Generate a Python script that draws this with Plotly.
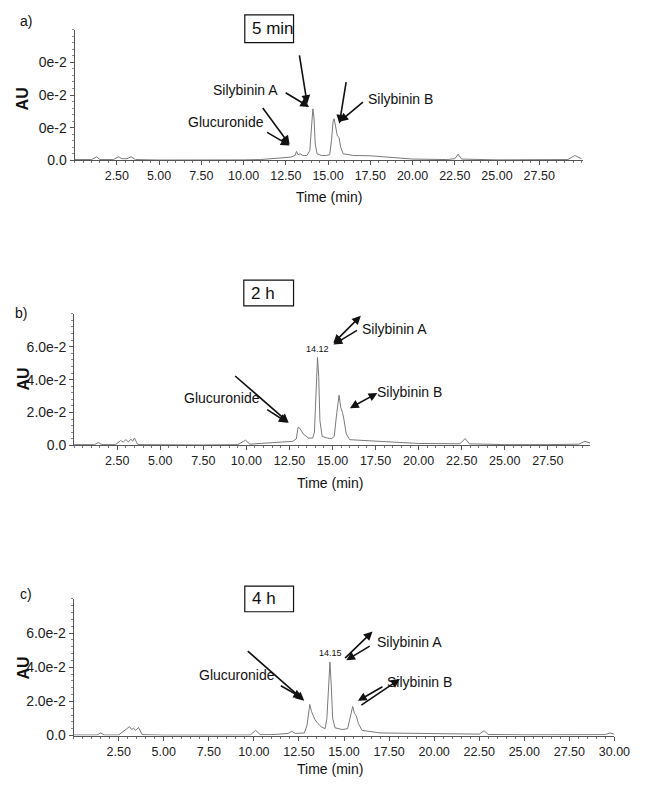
import plotly.graph_objects as go

W, H = 646, 793

# ---------------- data (AU in units of 1e-2) ----------------
t_a = [0.0, 1.0, 1.3, 1.5, 2.3, 2.6, 2.8, 3.1, 3.35, 3.6, 5.0, 7.5, 9.0, 10.0, 11.0, 12.0, 12.8,
       13.05, 13.13, 13.22, 13.35, 13.5, 13.75, 13.92, 14.02, 14.1, 14.17, 14.24, 14.35, 14.6,
       14.9, 15.1, 15.2, 15.3, 15.36, 15.45, 15.55, 15.65, 15.75, 15.9, 16.5, 17.5, 19.0, 20.0,
       22.0, 22.5, 22.7, 22.9, 25.0, 27.5, 29.2, 29.6, 29.9, 30.0]
au_a = [0.05, 0.05, 0.22, 0.05, 0.05, 0.22, 0.1, 0.1, 0.22, 0.05, 0.02, 0.02, 0.0, 0.03, 0.05, 0.12, 0.2,
        0.3, 0.55, 0.35, 0.4, 0.3, 0.3, 0.6, 2.2, 3.15, 2.6, 1.0, 0.4, 0.3,
        0.3, 0.35, 1.2, 2.4, 2.55, 2.0, 1.5, 1.4, 0.8, 0.4, 0.3, 0.28, 0.15, 0.08,
        0.05, 0.1, 0.38, 0.08, 0.03, 0.03, 0.05, 0.3, 0.15, 0.1]

t_b = [0.0, 1.2, 1.4, 1.6, 2.4, 2.7, 2.85, 3.0, 3.15, 3.3, 3.4, 3.5, 3.7, 5.0, 7.5, 9.5, 9.95, 10.2,
       11.0, 12.0, 12.7, 12.9, 13.0, 13.1, 13.3, 13.6, 13.85, 13.95, 14.05, 14.13, 14.2, 14.27,
       14.4, 14.7, 14.95, 15.1, 15.25, 15.38, 15.48, 15.58, 15.66, 15.8, 16.0, 17.5, 20.0, 22.4,
       22.7, 22.95, 25.0, 27.5, 29.3, 29.65, 29.95]
au_b = [0.05, 0.05, 0.18, 0.05, 0.05, 0.3, 0.2, 0.35, 0.22, 0.38, 0.25, 0.45, 0.05, 0.03, 0.03, 0.05, 0.32, 0.08,
        0.12, 0.18, 0.25, 0.4, 1.1, 1.05, 0.7, 0.45, 0.45, 0.8, 3.5, 5.35, 4.2, 1.5,
        0.55, 0.45, 0.42, 0.55, 2.0, 3.05, 2.3, 2.0, 1.6, 0.7, 0.35, 0.28, 0.12, 0.1,
        0.42, 0.1, 0.05, 0.05, 0.08, 0.25, 0.15]

t_c = [0.0, 1.3, 1.5, 1.7, 2.5, 2.8, 3.1, 3.22, 3.32, 3.45, 3.6, 3.8, 5.0, 7.5, 9.8, 10.1, 10.35,
       11.0, 11.5, 11.9, 12.1, 12.3, 12.8, 12.95, 13.1, 13.2, 13.38, 13.55, 13.75, 13.95, 14.05,
       14.14, 14.22, 14.29, 14.37, 14.5, 14.9, 15.2, 15.35, 15.48, 15.58, 15.68, 15.8, 16.0, 17.0,
       20.0, 22.5, 22.77, 23.0, 25.0, 27.5, 29.5, 29.75, 30.0]
au_c = [0.03, 0.03, 0.15, 0.03, 0.03, 0.25, 0.52, 0.35, 0.42, 0.3, 0.47, 0.05, 0.02, 0.02, 0.03, 0.3, 0.05,
        0.05, 0.1, 0.12, 0.25, 0.12, 0.15, 0.6, 1.82, 1.4, 0.95, 0.7, 0.5, 0.4, 1.0,
        3.0, 4.3, 3.0, 1.0, 0.45, 0.35, 0.4, 1.2, 1.7, 1.3, 1.15, 0.7, 0.3, 0.15,
        0.1, 0.08, 0.28, 0.06, 0.04, 0.04, 0.05, 0.15, 0.08]

x_ticks_ab = [2.5, 5.0, 7.5, 10.0, 12.5, 15.0, 17.5, 20.0, 22.5, 25.0, 27.5]
x_ticks_c = x_ticks_ab + [30.0]
y_ticks = [0, 2, 4, 6]
y_text_a = ["0.0", "0e-2", "0e-2", "0e-2"]
y_text_bc = ["0.0", "2.0e-2", "4.0e-2", "6.0e-2"]

FONT = "Liberation Sans, Arial, sans-serif"
LINE = "#7a7a7a"

def px(x):
    return x / W

def py(y):
    return 1 - y / H

panels = [
    (76.5, 598, 30, 162, [0, 30.1], x_ticks_ab, y_text_a, t_a, au_a),
    (76.0, 605, 317, 450, [0, 29.95], x_ticks_ab, y_text_bc, t_b, au_b),
    (75.5, 630, 605, 743, [0, 30.0], x_ticks_c, y_text_bc, t_c, au_c),
]

fig = go.Figure()
layout = dict(width=W, height=H, margin=dict(l=0, r=0, t=0, b=0),
              paper_bgcolor="white", plot_bgcolor="white", showlegend=False,
              font=dict(family=FONT, color="#222"))

for i, (x0, x1, yt, yb, xr, xt, ytx, tt, vv) in enumerate(panels):
    n = "" if i == 0 else str(i + 1)
    fig.add_trace(go.Scatter(x=tt, y=vv, mode="lines", line=dict(color=LINE, width=1),
                             xaxis="x" + n, yaxis="y" + n, hoverinfo="skip"))
    layout["xaxis" + n] = dict(domain=[px(x0), px(x1)], range=xr, anchor="y" + n,
                               showgrid=False, zeroline=False, showline=True,
                               linecolor="#555", linewidth=1,
                               tickmode="array", tickvals=xt,
                               ticktext=["%.2f" % v for v in xt],
                               ticks="outside", ticklen=4, tickcolor="#555",
                               tickfont=dict(size=12.5, family=FONT, color="#222"),
                               minor=dict(dtick=0.5, ticks="outside", ticklen=2, tickcolor="#777"))
    layout["yaxis" + n] = dict(domain=[py(yb), py(yt)], range=[0, 8], anchor="x" + n,
                               showgrid=False, zeroline=False, showline=True,
                               linecolor="#555", linewidth=1,
                               tickmode="array", tickvals=y_ticks, ticktext=ytx,
                               ticks="outside", ticklen=4, tickcolor="#555",
                               tickfont=dict(size=14, family=FONT, color="#222"),
                               minor=dict(dtick=0.4, ticks="outside", ticklen=2, tickcolor="#888"))

fig.update_layout(**layout)

ann = []
shapes = []

def text(x, y, s, size=14, bold=False, anchor="center", angle=0):
    ann.append(dict(xref="paper", yref="paper", x=px(x), y=py(y), text=("<b>%s</b>" % s if bold else s),
                    showarrow=False, xanchor=anchor, yanchor="middle", textangle=angle,
                    font=dict(size=size, family=FONT, color="#111")))

def arrow(x0, y0, x1, y1, both=False, w=1.6):
    ann.append(dict(xref="paper", yref="paper", x=px(x1), y=py(y1), ax=x0 - x1, ay=y0 - y1,
                    axref="pixel", ayref="pixel", text="", showarrow=True,
                    arrowhead=2, arrowsize=1.1, arrowwidth=w, arrowcolor="#111",
                    startarrowhead=2, startarrowsize=1.1,
                    arrowside="end+start" if both else "end"))

def box(x0, y0, x1, y1, s):
    shapes.append(dict(type="rect", xref="paper", yref="paper", x0=px(x0), x1=px(x1),
                       y0=py(y1), y1=py(y0), line=dict(color="#111", width=1.2)))
    ann.append(dict(xref="paper", yref="paper", x=px(x0 + 5), y=py((y0 + y1) / 2), text=s,
                    showarrow=False, xanchor="left", yanchor="middle",
                    font=dict(size=17, family=FONT, color="#111")))

# panel a
text(27, 21, "a)", 14)
box(251, 15, 301, 43, "5 min")
text(24, 100, "AU", 16, bold=True, angle=-90)
text(337, 199, "Time (min)", 14)
text(252, 91, "Silybinin A")
text(232, 123, "Glucuronide")
text(411, 100, "Silybinin B")
arrow(307, 55, 315, 105)
arrow(292, 93, 317, 108)
arrow(269, 108, 297, 146)
arrow(273, 133, 297, 147)
arrow(373, 102, 348, 123)
arrow(355, 82, 348, 125)

# panel b
text(22, 316, "b)", 14)
box(250, 283, 301, 309, "2 h")
text(24, 383, "AU", 16, bold=True, angle=-90)
text(338, 488, "Time (min)", 14)
text(326, 353, "14.12", 9)
text(405, 332, "Silybinin A")
text(228, 402, "Glucuronide")
text(420, 396, "Silybinin B")
arrow(241, 379, 296, 427)
arrow(273, 413, 295, 427)
arrow(341, 348, 370, 319, both=True)
arrow(367, 333, 342, 348)
arrow(358, 413, 387, 397, both=True)

# panel c
text(27, 600, "c)", 14)
box(251, 592, 301, 618, "4 h")
text(24, 675, "AU", 16, bold=True, angle=-90)
text(338, 777, "Time (min)", 14)
text(339, 660, "14.15", 9)
text(420, 649, "Silybinin A")
text(243, 682, "Glucuronide")
text(430, 689, "Silybinin B")
arrow(254, 657, 312, 708)
arrow(287, 692, 310, 705)
arrow(353, 666, 382, 638)
arrow(380, 652, 355, 667)
arrow(393, 693, 367, 708)
arrow(370, 713, 410, 686)

fig.update_layout(annotations=ann, shapes=shapes)

fig.write_html("out.html", config={"displayModeBar": False},
               post_script="document.body.style.margin='0';document.body.style.overflow='hidden';")
